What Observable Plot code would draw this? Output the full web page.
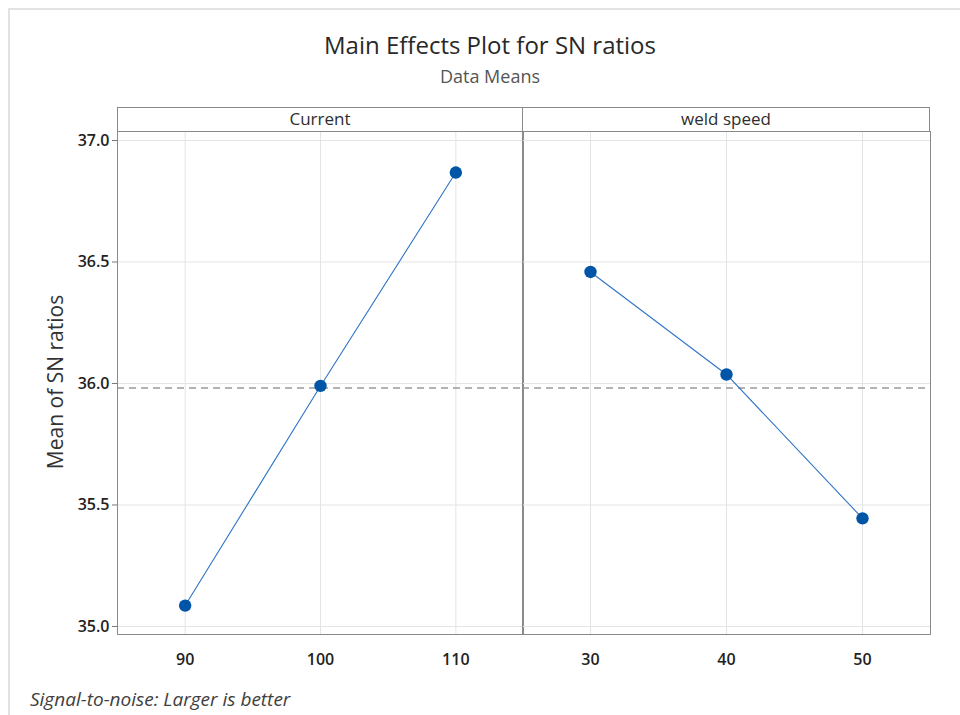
<!DOCTYPE html>
<html>
<head>
<meta charset="utf-8">
<script src="https://cdn.jsdelivr.net/npm/d3@7"></script>
<script src="https://cdn.jsdelivr.net/npm/@observablehq/plot@0.6"></script>
<style>
  html, body { margin: 0; padding: 0; background: #fff; }
  body { width: 960px; height: 715px; position: relative; overflow: hidden; font-family: "Open Sans", sans-serif; }
  .page-edge { position: absolute; left: 8px; top: 8px; width: 980px; height: 740px;
    border-top: 2px solid #e2e2e2; border-left: 2px solid #e2e2e2; }
  .title { position: absolute; left: 0; width: 980px; text-align: center; line-height: 1; white-space: nowrap; }
  #t1 { top: 33px; font-size: 24px; color: #282828; }
  #t2 { top: 67px; font-size: 18px; color: #555; }
  .header { position: absolute; top: 107px; height: 25px; box-sizing: border-box;
    border: 1px solid #8a8a8a; text-align: center; font-size: 17px; line-height: 22px;
    color: #2e2e2e; }
  #ylab { position: absolute; left: 55px; top: 382px; transform: translate(-50%, -50%) rotate(-90deg);
    font-size: 21px; color: #333; white-space: nowrap; line-height: 1; }
  #note { position: absolute; left: 30px; top: 690px; font-size: 19px; font-style: italic;
    color: #404040; line-height: 1; white-space: nowrap; }
  .panel { position: absolute; top: 121px; }
</style>
</head>
<body>
<div class="page-edge"></div>
<div class="title" id="t1">Main Effects Plot for SN ratios</div>
<div class="title" id="t2">Data Means</div>
<div id="ylab">Mean of SN ratios</div>
<div id="note">Signal-to-noise: Larger is better</div>
<div id="left" class="panel" style="left:0px"></div>
<div id="right" class="panel" style="left:522px"></div>
<div class="header" style="left:117px; width:406px;">Current</div>
<div class="header" style="left:522px; width:408px;">weld speed</div>
<script>
// Factor levels and mean S/N ratio at each level
const currentLevels = [90, 100, 110];
const currentSN = [35.086, 35.990, 36.868];
const speedLevels = [30, 40, 50];
const speedSN = [36.459, 36.037, 35.445];
const yTicks = [35.0, 35.5, 36.0, 36.5, 37.0];

const currentRows = currentLevels.map((level, i) => ({level, sn: currentSN[i]}));
const speedRows = speedLevels.map((level, i) => ({level, sn: speedSN[i]}));

// Overall mean of the S/N ratios (reference line)
const grandMean = d3.mean(currentSN);

const yDomain = [34.967, 37.037];
const gridColor = "#e4e4e4";

function effectsPanel(rows, levels, xDomain, opts) {
  const marks = [
    Plot.gridX({ticks: levels, stroke: gridColor, strokeOpacity: 1}),
    Plot.gridY({ticks: yTicks, stroke: gridColor, strokeOpacity: 1}),
    Plot.ruleY([grandMean], {stroke: "#9a9a9a", strokeWidth: 1.3, strokeDasharray: "7,5"}),
    Plot.frame({stroke: "#8a8a8a"}),
    Plot.axisX({ticks: levels, tickSize: 0, tickPadding: 19, label: null,
      fontSize: 16, fontWeight: 600, fill: "#222"})
  ];
  if (opts.yAxis) {
    marks.push(Plot.axisY({ticks: yTicks, tickFormat: d3.format(".1f"), tickSize: 5, tickPadding: 3,
      label: null, fontSize: 16, fontWeight: 600, fill: "#222", stroke: "#777"}));
  }
  marks.push(
    Plot.line(rows, {x: "level", y: "sn", stroke: "#2f74c6", strokeWidth: 1.1}),
    Plot.dot(rows, {x: "level", y: "sn", r: 6.2, fill: "#0055a6", stroke: "none"})
  );
  return Plot.plot({
    width: opts.width,
    height: 553,
    marginTop: 10,
    marginBottom: 40,
    marginLeft: opts.marginLeft,
    marginRight: opts.marginRight,
    style: {fontFamily: "'Open Sans', sans-serif", background: "transparent", overflow: "visible"},
    x: {domain: xDomain, axis: null},
    y: {domain: yDomain, axis: null},
    marks
  });
}

document.getElementById("left").append(
  effectsPanel(currentRows, currentLevels, [85, 115], {width: 523, marginLeft: 117, marginRight: 0, yAxis: true})
);
document.getElementById("right").append(
  effectsPanel(speedRows, speedLevels, [25, 55], {width: 438, marginLeft: 0, marginRight: 30, yAxis: false})
);
</script>
</body>
</html>
